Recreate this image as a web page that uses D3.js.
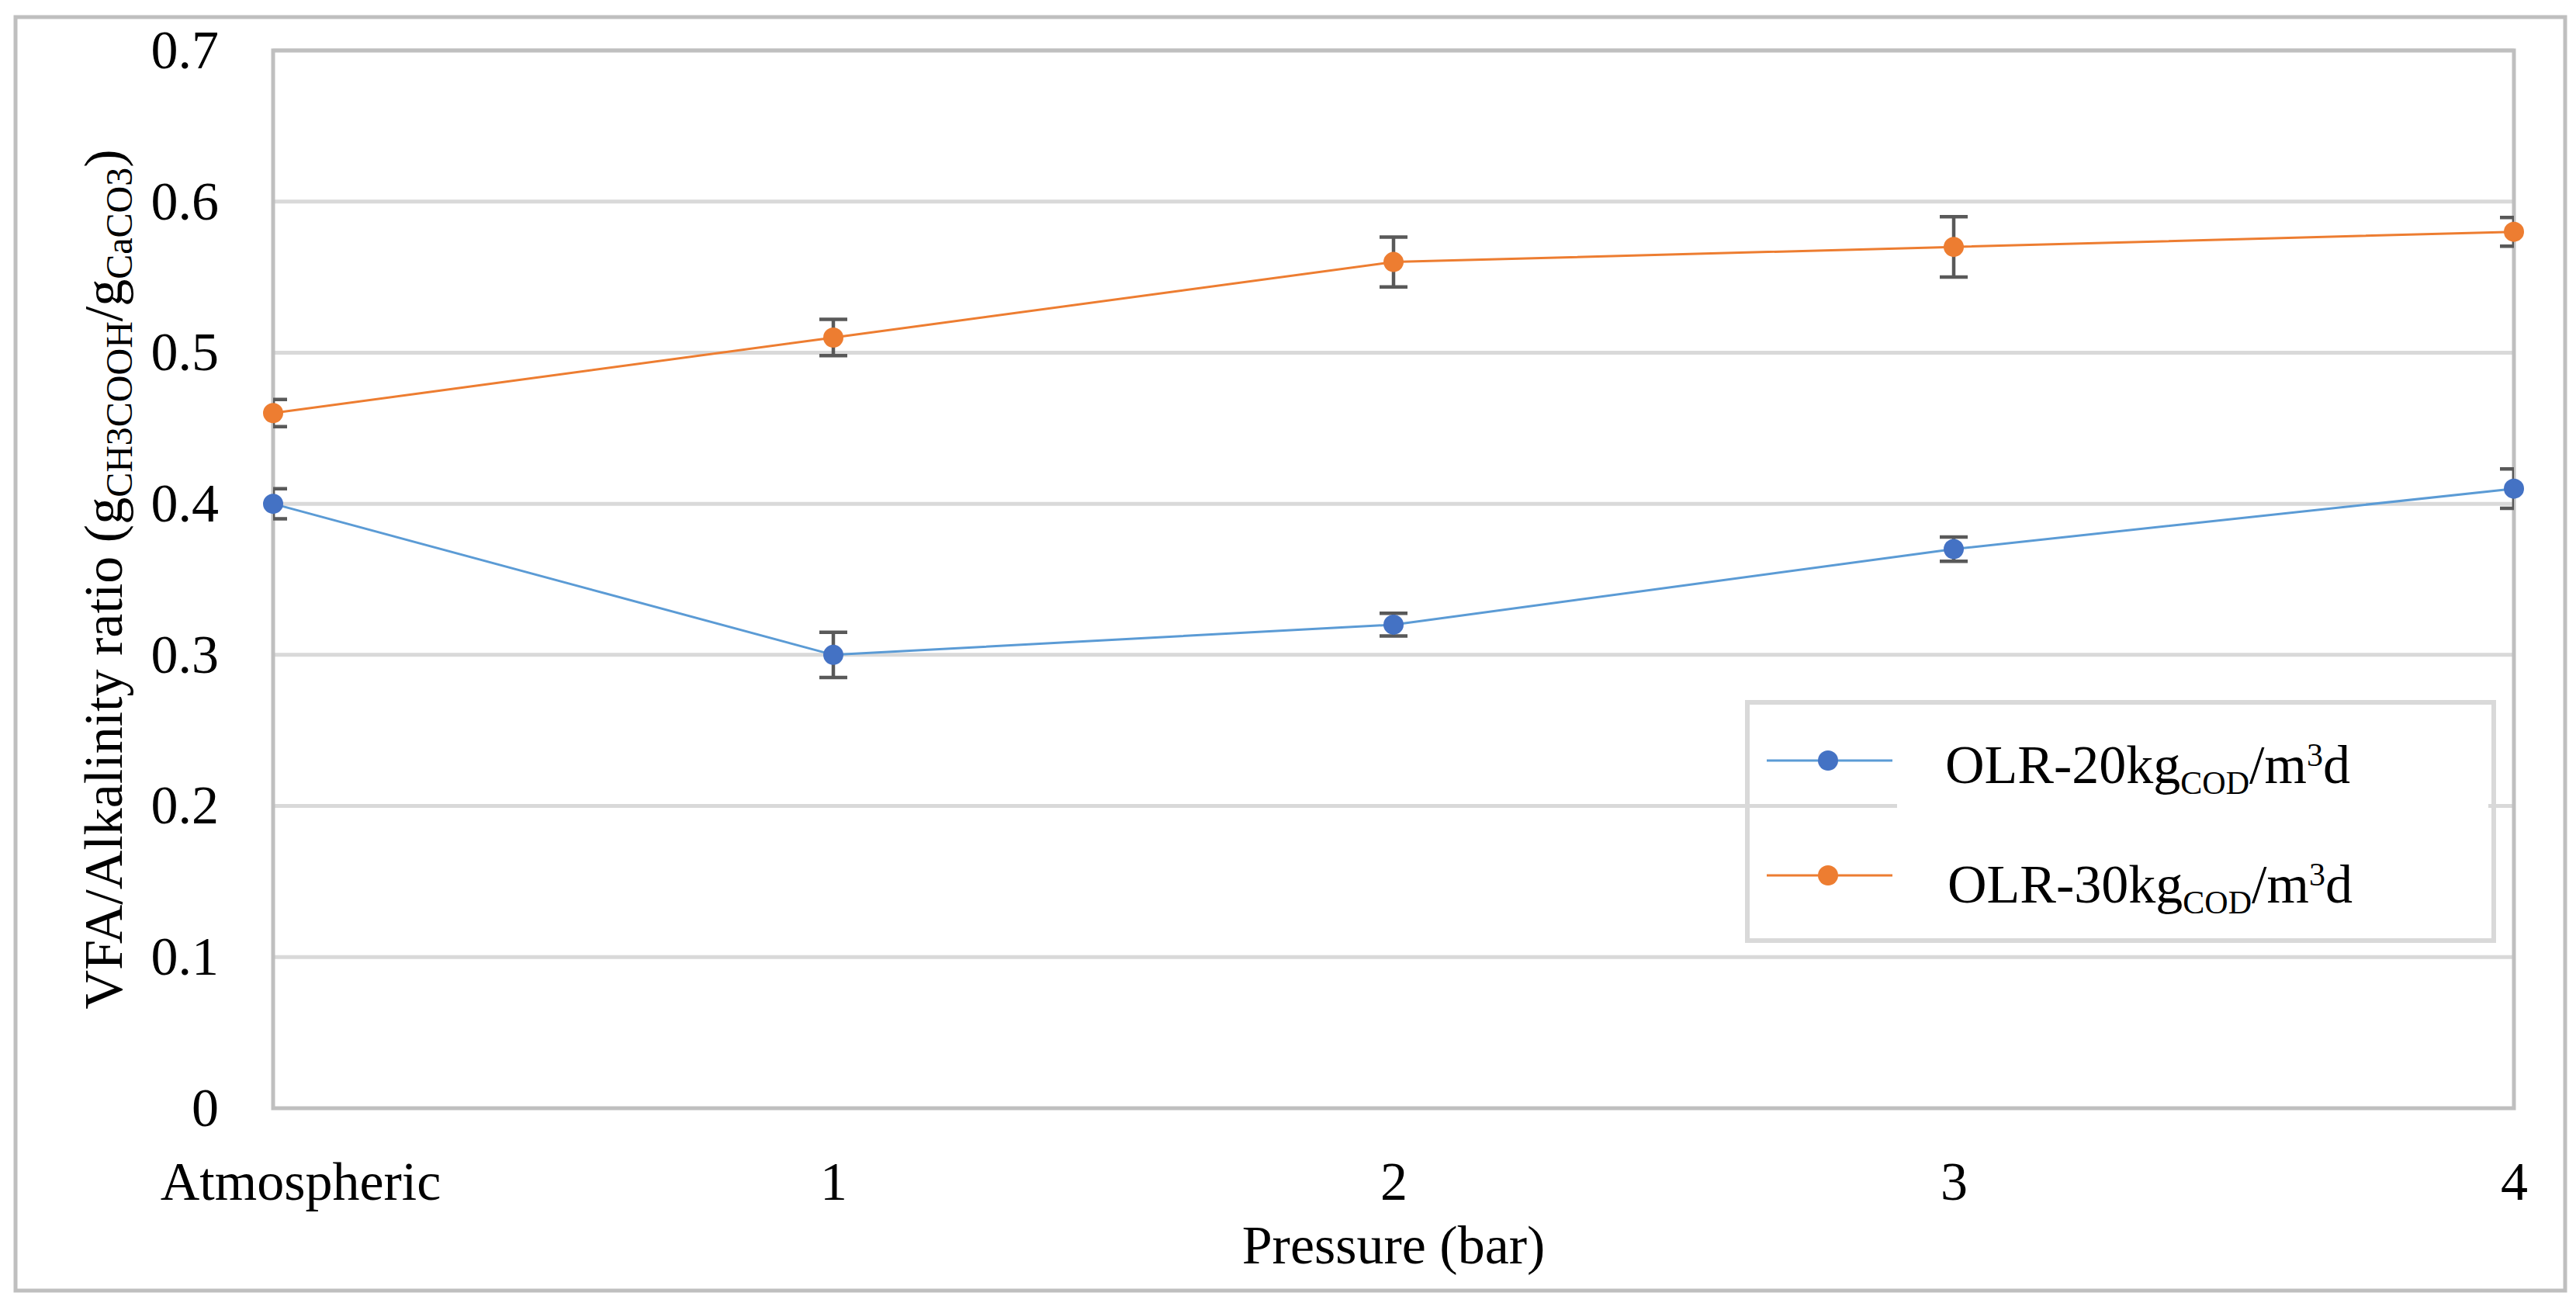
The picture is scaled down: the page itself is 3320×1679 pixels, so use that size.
<!DOCTYPE html>
<html>
<head>
<meta charset="utf-8">
<script src="https://cdn.jsdelivr.net/npm/d3@7"></script>
<style>
  body { margin: 0; background: #fff; }
  text { font-family: "Liberation Serif", "Times New Roman", serif; fill: #000; }
</style>
</head>
<body>
<script>
// data
var categories = ["Atmospheric", "1", "2", "3", "4"];
var olr20 = [0.40, 0.30, 0.32, 0.37, 0.41];
var olr20Err = [0.010, 0.015, 0.0075, 0.008, 0.013];
var olr30 = [0.46, 0.51, 0.56, 0.57, 0.58];
var olr30Err = [0.009, 0.012, 0.0165, 0.020, 0.0095];
var yTicks = [0, 0.1, 0.2, 0.3, 0.4, 0.5, 0.6, 0.7];

var W = 3320, H = 1679;
// plot area edges (don't use "top" - it's window.top)
var pLeft = 352, pRight = 3240, pTop = 65, pBottom = 1428;
var fs = 70;

var svg = d3.select("body").append("svg")
        .attr("width", W)
        .attr("height", H);

// outer chart frame
svg.append("rect")
        .attr("x", 20).attr("y", 22)
        .attr("width", 3286).attr("height", 1641)
        .attr("fill", "#fff")
        .attr("stroke", "#bfbfbf")
        .attr("stroke-width", 5);

var x = d3.scalePoint().domain(categories).range([pLeft, pRight]).padding(0);
var y = d3.scaleLinear().domain([0, 0.7]).range([pBottom, pTop]);

// gridlines
svg.append("g").selectAll("line")
        .data(yTicks.slice(1))
        .enter().append("line")
                .attr("x1", pLeft).attr("x2", pRight)
                .attr("y1", function(d) { return y(d); })
                .attr("y2", function(d) { return y(d); })
                .attr("stroke", "#d9d9d9")
                .attr("stroke-width", 5);

// plot area border
svg.append("rect")
        .attr("x", pLeft).attr("y", pTop)
        .attr("width", pRight - pLeft).attr("height", pBottom - pTop)
        .attr("fill", "none")
        .attr("stroke", "#bfbfbf")
        .attr("stroke-width", 5);

// y axis labels
var yAxis = svg.append("g")
        .attr("transform", "translate(" + pLeft + ",0)")
        .call(d3.axisLeft(y).tickValues(yTicks).tickSize(0).tickPadding(70)
                .tickFormat(function(d) { return d === 0 ? "0" : d3.format(".1f")(d); }));
yAxis.select(".domain").remove();
yAxis.selectAll("text").attr("font-size", fs).attr("font-family", null).attr("fill", "#000");

// x axis labels
var xAxis = svg.append("g")
        .attr("transform", "translate(0," + pBottom + ")")
        .call(d3.axisBottom(x).tickSize(0).tickPadding(68));
xAxis.select(".domain").remove();
xAxis.selectAll("text").attr("font-size", fs).attr("font-family", null).attr("fill", "#000")
        .attr("dx", function(d, i) { return i === 0 ? 35 : 0; });

// axis titles
svg.append("text")
        .attr("x", (pLeft + pRight) / 2).attr("y", 1628)
        .attr("text-anchor", "middle")
        .attr("font-size", fs)
        .text("Pressure (bar)");

var yt = svg.append("text")
        .attr("transform", "translate(157," + ((pTop + pBottom) / 2) + ") rotate(-90)")
        .attr("text-anchor", "middle")
        .attr("font-size", fs);
yt.append("tspan").text("VFA/Alkalinity ratio (g");
yt.append("tspan").attr("font-size", 48).attr("dy", 13).text("CH3COOH");
yt.append("tspan").attr("dy", -13).text("/g");
yt.append("tspan").attr("font-size", 48).attr("dy", 13).text("CaCO3");
yt.append("tspan").attr("dy", -13).text(")");

// series
var series = [
  { vals: olr20, err: olr20Err, line: "#5b9bd5", mark: "#4472c4" },
  { vals: olr30, err: olr30Err, line: "#ed7d31", mark: "#ed7d31" }
];

svg.append("clipPath").attr("id", "plotclip")
        .append("rect")
        .attr("x", pLeft).attr("y", pTop)
        .attr("width", pRight - pLeft).attr("height", pBottom - pTop);

var lineGen = d3.line()
        .x(function(d, i) { return x(categories[i]); })
        .y(function(d) { return y(d); });

series.forEach(function(s) {
  svg.append("path")
          .datum(s.vals)
          .attr("d", lineGen)
          .attr("fill", "none")
          .attr("stroke", s.line)
          .attr("stroke-width", 3);
});

series.forEach(function(s) {
  var eb = svg.append("g").attr("clip-path", "url(#plotclip)")
          .attr("stroke", "#595959").attr("stroke-width", 4.5);
  s.vals.forEach(function(v, i) {
    var cx = x(categories[i]);
    var y1 = y(v + s.err[i]), y2 = y(v - s.err[i]);
    eb.append("line").attr("x1", cx).attr("x2", cx).attr("y1", y1).attr("y2", y2);
    eb.append("line").attr("x1", cx - 18).attr("x2", cx + 18).attr("y1", y1).attr("y2", y1);
    eb.append("line").attr("x1", cx - 18).attr("x2", cx + 18).attr("y1", y2).attr("y2", y2);
  });
});

series.forEach(function(s) {
  svg.append("g").selectAll("circle")
          .data(s.vals)
          .enter().append("circle")
                  .attr("cx", function(d, i) { return x(categories[i]); })
                  .attr("cy", function(d) { return y(d); })
                  .attr("r", 13)
                  .attr("fill", s.mark);
});

// legend
svg.append("rect")
        .attr("x", 2445).attr("y", 905)
        .attr("width", 762).attr("height", 307)
        .attr("fill", "#fff");
svg.append("rect")
        .attr("x", 2252).attr("y", 905)
        .attr("width", 962).attr("height", 307)
        .attr("fill", "none")
        .attr("stroke", "#d9d9d9")
        .attr("stroke-width", 6);

var legendNames = ["20", "30"];
var rowY = [980, 1128];
series.forEach(function(s, i) {
  var g = svg.append("g");
  g.append("line")
          .attr("x1", 2277).attr("x2", 2439)
          .attr("y1", rowY[i]).attr("y2", rowY[i])
          .attr("stroke", s.line).attr("stroke-width", 3);
  g.append("circle")
          .attr("cx", 2356).attr("cy", rowY[i]).attr("r", 13)
          .attr("fill", s.mark);
  var t = g.append("text")
          .attr("x", 2507 + i * 3).attr("y", rowY[i] + 29 + i * 6)
          .attr("font-size", fs);
  t.append("tspan").text("OLR-" + legendNames[i] + "kg");
  t.append("tspan").attr("font-size", 42).attr("dy", 14).text("COD");
  t.append("tspan").attr("dy", -14).text("/m");
  t.append("tspan").attr("font-size", 42).attr("dy", -22).text("3");
  t.append("tspan").attr("dy", 22).text("d");
});
</script>
</body>
</html>
